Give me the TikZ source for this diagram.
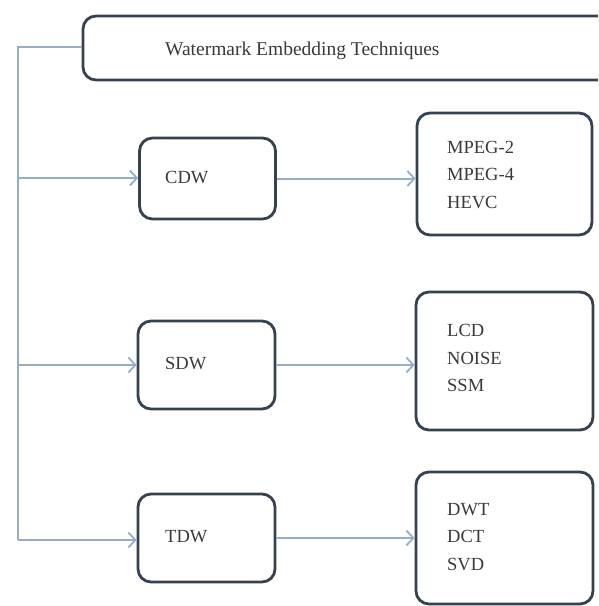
\documentclass[tikz,border=0pt]{standalone}
\usepackage{fontspec}
\setmainfont{Liberation Serif}
\usetikzlibrary{arrows.meta}
\definecolor{boxc}{HTML}{36424F}
\definecolor{linec}{HTML}{95AECB}
\definecolor{txtc}{HTML}{3A3A3A}
\tikzset{
  box/.style={draw=boxc, line width=2.8pt, rounded corners=13pt, fill=white, inner sep=0pt},
  lbl/.style={anchor=west, text=txtc, font=\fontsize{18.5}{27.5}\selectfont, inner sep=0pt, align=left},
  conn/.style={draw=linec, line width=2pt},
  arr/.style={conn, -{Straight Barb[length=7pt,width=15pt,line width=1.8pt]}}
}
\begin{document}
\begin{tikzpicture}[x=1pt,y=-1pt]
\useasboundingbox (0,0) rectangle (598,606);
\clip (0,0) rectangle (598,606);
% top box
\node[box, minimum width=540pt, minimum height=64pt] (top) at (353,48) {};
\node[lbl, font=\fontsize{19.5}{24}\selectfont] (toptxt) at (165,51) {Watermark Embedding Techniques};
% left boxes
\node[box, minimum width=136pt, minimum height=81pt] (cdw) at (207.5,178.5) {};
\node[lbl] (cdwt) at (165,178) {CDW};
\node[box, minimum width=137pt, minimum height=88pt] (sdw) at (206.5,365) {};
\node[lbl] (sdwt) at (165,364) {SDW};
\node[box, minimum width=137pt, minimum height=88pt] (tdw) at (206.5,538) {};
\node[lbl] (tdwt) at (165,537) {TDW};
% right boxes
\node[box, minimum width=175pt, minimum height=122pt] (mpeg) at (504.5,174) {};
\node[lbl] (mpegt) at (447,175) {MPEG-2\\MPEG-4\\HEVC};
\node[box, minimum width=177pt, minimum height=138pt] (lcd) at (504.5,361) {};
\node[lbl] (lcdt) at (447,358) {LCD\\NOISE\\SSM};
\node[box, minimum width=177pt, minimum height=132pt] (dwt) at (504.5,538) {};
\node[lbl] (dwtt) at (447,537) {DWT\\DCT\\SVD};
% trunk
\coordinate (t0) at (18,47);
\coordinate (t1) at (18,178);
\coordinate (t2) at (18,365);
\coordinate (t3) at (18,540);
\draw[conn] (top.west |- t0) -- (t0) -- (t3);
\draw[arr] (t1) -- (t1 -| cdw.west);
\draw[arr] (t2) -- (t2 -| sdw.west);
\draw[arr] (t3) -- (t3 -| tdw.west);
\draw[arr] (cdw.east) -- (cdw.east -| mpeg.west);
\draw[arr] (sdw.east) -- (sdw.east -| lcd.west);
\draw[arr] (tdw.east) -- (tdw.east -| dwt.west);
\end{tikzpicture}
\end{document}
